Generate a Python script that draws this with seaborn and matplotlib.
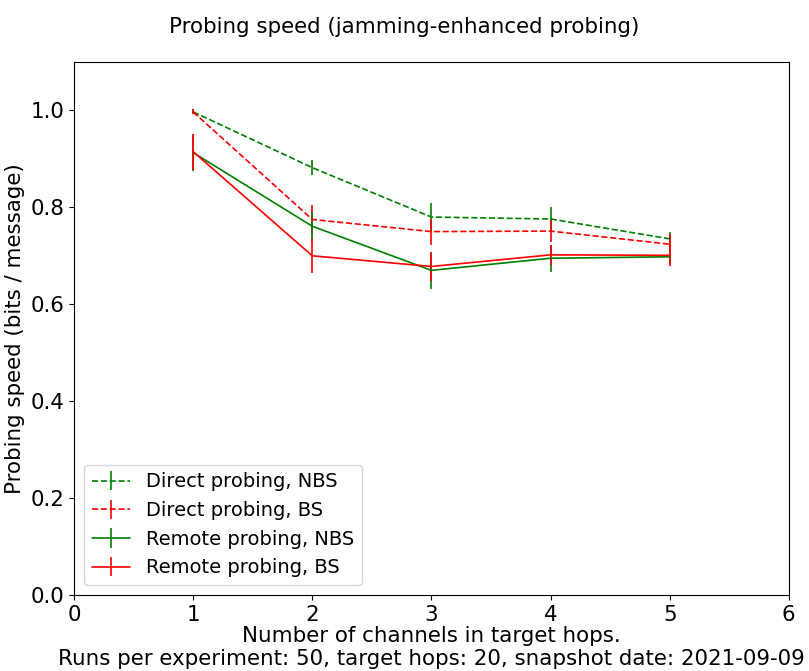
import seaborn as sns
import matplotlib
matplotlib.use("Agg")
import matplotlib.pyplot as plt
import pandas as pd

channels = [1, 2, 3, 4, 5]

direct_nbs = [0.997, 0.882, 0.780, 0.776, 0.735]
direct_nbs_err = [0.005, 0.015, 0.030, 0.025, 0.015]
direct_bs = [0.997, 0.775, 0.750, 0.751, 0.724]
direct_bs_err = [0.005, 0.030, 0.027, 0.022, 0.020]
remote_nbs = [0.913, 0.761, 0.670, 0.695, 0.698]
remote_nbs_err = [0.037, 0.030, 0.038, 0.028, 0.015]
remote_bs = [0.915, 0.700, 0.678, 0.702, 0.701]
remote_bs_err = [0.037, 0.035, 0.030, 0.020, 0.023]

series = [
    ("Direct probing, NBS", direct_nbs, direct_nbs_err, "green", "--"),
    ("Direct probing, BS", direct_bs, direct_bs_err, "red", "--"),
    ("Remote probing, NBS", remote_nbs, remote_nbs_err, "green", "-"),
    ("Remote probing, BS", remote_bs, remote_bs_err, "red", "-"),
]

fs = 15.4

sns.set_style("ticks")
plt.rcParams["font.family"] = ["DejaVu Sans"]
plt.rcParams["font.size"] = fs
plt.rcParams["text.color"] = "black"
plt.rcParams["axes.labelcolor"] = "black"
plt.rcParams["xtick.color"] = "black"
plt.rcParams["ytick.color"] = "black"

fig = plt.figure(figsize=(8.09, 6.71), dpi=100)
ax = fig.add_axes([0.0915, 0.1133, 0.8835, 0.7943])

for label, vals, errs, color, ls in series:
    df = pd.DataFrame({"x": channels, "y": vals, "e": errs})
    ax.errorbar(df["x"], df["y"], yerr=df["e"], color=color, linestyle=ls,
                linewidth=1.2, elinewidth=1.2, label=label)

ax.set_xlim(0, 6)
ax.set_ylim(0, 1.1)
ax.set_yticks([0.0, 0.2, 0.4, 0.6, 0.8, 1.0])
ax.tick_params(labelsize=fs, length=3.5, width=0.8)
for side in ax.spines.values():
    side.set_visible(True)
    side.set_color("black")
    side.set_linewidth(0.8)
ax.set_ylabel("Probing speed (bits / message)", fontsize=fs)
ax.set_xlabel("Number of channels in target hops.\n"
              "Runs per experiment: 50, target hops: 20, snapshot date: 2021-09-09",
              fontsize=fs, labelpad=1)
fig.suptitle("Probing speed (jamming-enhanced probing)", fontsize=fs, y=0.975)
ax.legend(loc="lower left", fontsize=14)

fig.savefig("out.png", dpi=100)
